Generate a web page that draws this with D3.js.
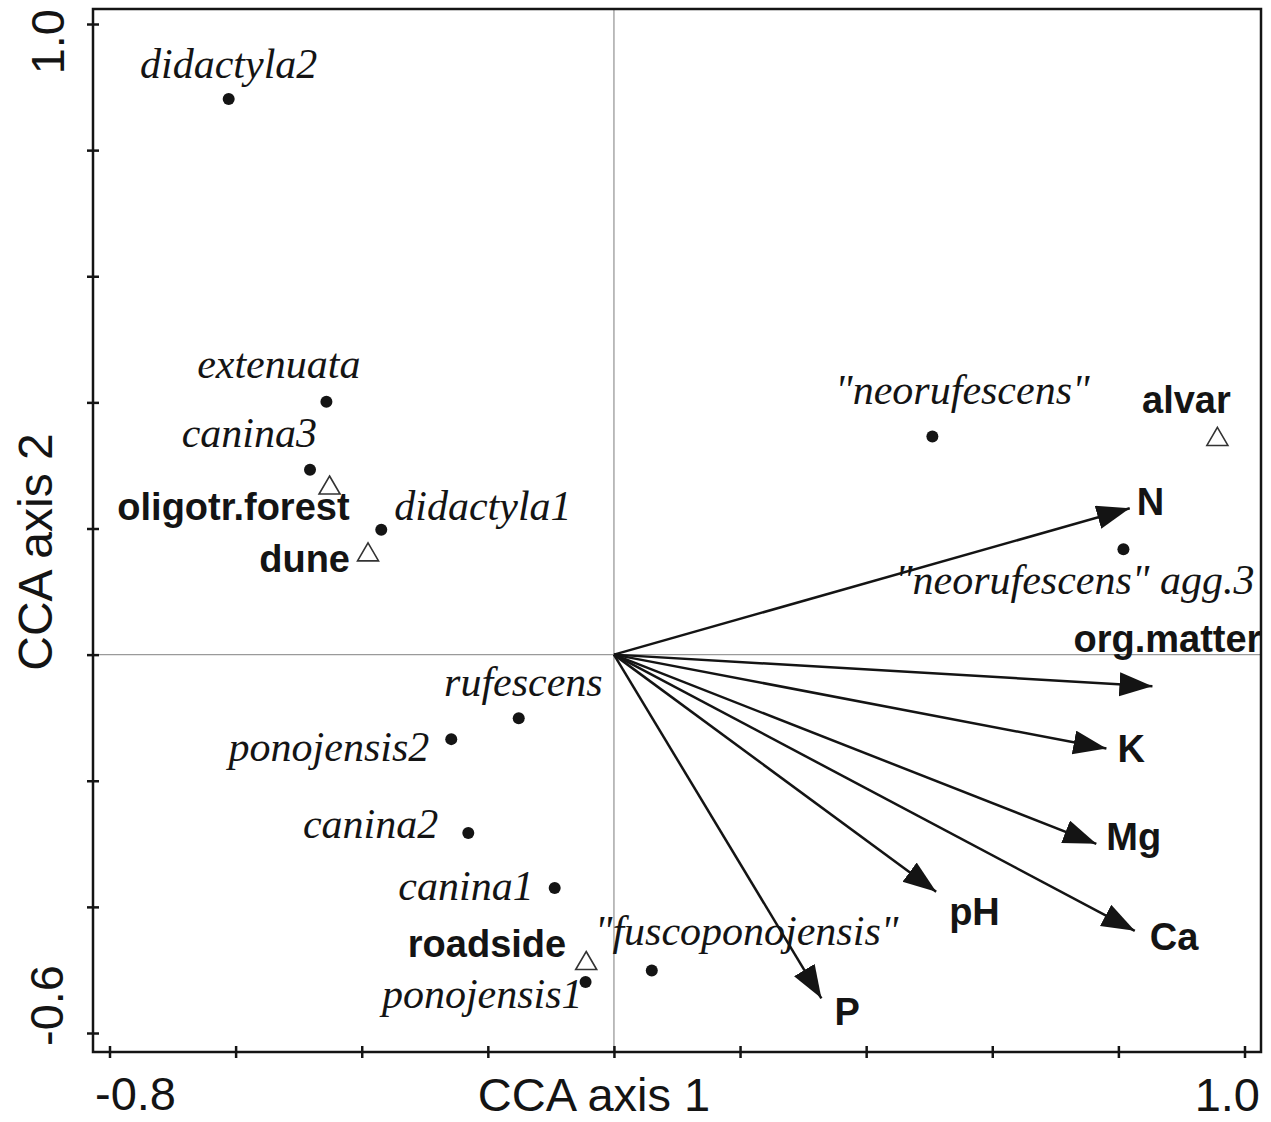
<!DOCTYPE html>
<html>
<head>
<meta charset="utf-8">
<script src="https://cdn.jsdelivr.net/npm/d3@7/dist/d3.min.js"></script>
<style>
  html, body { margin: 0; padding: 0; background: #fff; }
  svg { display: block; }
</style>
</head>
<body>
<svg id="chart" width="1271" height="1122"></svg>
<script>
// ---------------- data ----------------
const speciesNames = ["didactyla2", "extenuata", "canina3", "didactyla1", "\"neorufescens\"", "\"neorufescens\" agg.3",
  "rufescens", "ponojensis2", "canina2", "canina1", "\"fuscoponojensis\"", "ponojensis1"];
const speciesX = [-0.611, -0.456, -0.482, -0.369, 0.505, 0.808, -0.151, -0.258, -0.231, -0.094, 0.060, -0.045];
const speciesY = [0.881, 0.401, 0.293, 0.198, 0.346, 0.167, -0.101, -0.134, -0.283, -0.370, -0.501, -0.519];

const siteNames = ["oligotr.forest", "dune", "alvar", "roadside"];
const siteX = [-0.451, -0.390, 0.957, -0.044];
const siteY = [0.269, 0.163, 0.346, -0.485];

const envNames = ["N", "org.matter", "K", "Mg", "Ca", "pH", "P"];
const envX = [0.818, 0.854, 0.781, 0.765, 0.826, 0.511, 0.329];
const envY = [0.232, -0.050, -0.149, -0.300, -0.438, -0.376, -0.545];

const xTicks = [-0.8, -0.6, -0.4, -0.2, 0.0, 0.2, 0.4, 0.6, 0.8, 1.0];
const yTicks = [-0.6, -0.4, -0.2, 0.0, 0.2, 0.4, 0.6, 0.8, 1.0];
const xTickLabels = ["-0.8", "1.0"];
const yTickLabels = ["-0.6", "1.0"];
const xTitle = "CCA axis 1";
const yTitle = "CCA axis 2";

// ---------------- layout (label placement, px) ----------------
const speciesLabelPos = [
  [0, -21, "middle"], [34, -24, "end"], [7, -23, "end"], [13, -10, "start"],
  [30, -32, "middle"], [131, 45, "end"], [84, -22, "end"], [-22, 22, "end"],
  [-30, 5, "end"], [-21, 12, "end"], [-57, -26, "start"], [-3, 26, "end"]
];
const siteLabelPos = [[20, 35, "end"], [-18, 20, "end"], [-31, -23, "middle"], [-20, -3, "end"]];
const envLabelPos = [[7, 7, "start"], [-79, -34, "start"], [11, 13, "start"], [10, 6, "start"],
  [15, 19, "start"], [13, 33, "start"], [13, 27, "start"]];

const INK = "#141414";
const svg = d3.select("#chart");

const x = d3.scaleLinear().domain([-0.8, 1.0]).range([109.5, 1244.5]);
const y = d3.scaleLinear().domain([-0.6, 1.0]).range([1033, 24]);

const L = 93, R = 1261, T = 9, B = 1052;

// zero lines
svg.append("line").attr("x1", x(0)).attr("x2", x(0)).attr("y1", T).attr("y2", B)
  .attr("stroke", "#9a9a9a").attr("stroke-width", 1.3);
svg.append("line").attr("x1", L).attr("x2", R).attr("y1", y(0)).attr("y2", y(0))
  .attr("stroke", "#9a9a9a").attr("stroke-width", 1.3);

// frame
svg.append("rect").attr("x", L).attr("y", T).attr("width", R - L).attr("height", B - T)
  .attr("fill", "none").attr("stroke", INK).attr("stroke-width", 2.5);

// axes ticks (crossing the frame)
const xAxis = d3.axisBottom(x).tickValues(xTicks).tickSize(12).tickFormat("");
const gx = svg.append("g").attr("transform", `translate(0,${B - 6})`).call(xAxis);
gx.select(".domain").remove();
gx.selectAll(".tick line").attr("stroke", INK).attr("stroke-width", 2.5);

const yAxis = d3.axisLeft(y).tickValues(yTicks).tickSize(12).tickFormat("");
const gy = svg.append("g").attr("transform", `translate(${L + 6},0)`).call(yAxis);
gy.select(".domain").remove();
gy.selectAll(".tick line").attr("stroke", INK).attr("stroke-width", 2.5);

const sans = "'Liberation Sans', Arial, sans-serif";
const serif = "'Liberation Serif', 'Times New Roman', serif";

// tick labels
svg.append("text").attr("x", 95).attr("y", 1110).attr("text-anchor", "start")
  .attr("font-family", sans).attr("font-size", 47).attr("fill", INK).text(xTickLabels[0]);
svg.append("text").attr("x", 1260).attr("y", 1111).attr("text-anchor", "end")
  .attr("font-family", sans).attr("font-size", 47).attr("fill", INK).text(xTickLabels[1]);
svg.append("text").attr("transform", "translate(63,1046) rotate(-90)").attr("text-anchor", "start")
  .attr("font-family", sans).attr("font-size", 47).attr("fill", INK).text(yTickLabels[0]);
svg.append("text").attr("transform", "translate(64,9) rotate(-90)").attr("text-anchor", "end")
  .attr("font-family", sans).attr("font-size", 47).attr("fill", INK).text(yTickLabels[1]);

// axis titles
svg.append("text").attr("x", 594).attr("y", 1111).attr("text-anchor", "middle")
  .attr("font-family", sans).attr("font-size", 47).attr("fill", INK).text(xTitle);
svg.append("text").attr("transform", "translate(52,552) rotate(-90)").attr("text-anchor", "middle")
  .attr("font-family", sans).attr("font-size", 48).attr("fill", INK).text(yTitle);

// arrows
const defs = svg.append("defs");
defs.append("marker").attr("id", "ah").attr("markerUnits", "userSpaceOnUse")
  .attr("markerWidth", 36).attr("markerHeight", 26).attr("refX", 33).attr("refY", 12)
  .attr("orient", "auto")
  .append("path").attr("d", "M0,0 L33,12 L0,24 Z").attr("fill", INK);

const env = envNames.map((n, i) => ({ name: n, x: envX[i], y: envY[i], lp: envLabelPos[i] }));
svg.append("g").selectAll("line").data(env).join("line")
  .attr("x1", x(0)).attr("y1", y(0))
  .attr("x2", d => x(d.x)).attr("y2", d => y(d.y))
  .attr("stroke", INK).attr("stroke-width", 2.5).attr("marker-end", "url(#ah)");
svg.append("g").selectAll("text").data(env).join("text")
  .attr("x", d => x(d.x) + d.lp[0]).attr("y", d => y(d.y) + d.lp[1])
  .attr("text-anchor", d => d.lp[2])
  .attr("font-family", sans).attr("font-weight", "bold").attr("font-size", 38).attr("fill", INK)
  .text(d => d.name);

// species points
const sp = speciesNames.map((n, i) => ({ name: n, x: speciesX[i], y: speciesY[i], lp: speciesLabelPos[i] }));
svg.append("g").selectAll("circle").data(sp).join("circle")
  .attr("cx", d => x(d.x)).attr("cy", d => y(d.y)).attr("r", 6).attr("fill", INK);
svg.append("g").selectAll("text").data(sp).join("text")
  .attr("x", d => x(d.x) + d.lp[0]).attr("y", d => y(d.y) + d.lp[1])
  .attr("text-anchor", d => d.lp[2])
  .attr("font-family", serif).attr("font-style", "italic").attr("font-size", 42).attr("fill", INK)
  .text(d => d.name);

// sites
const st = siteNames.map((n, i) => ({ name: n, x: siteX[i], y: siteY[i], lp: siteLabelPos[i] }));
svg.append("g").selectAll("path").data(st).join("path")
  .attr("d", d => {
    const cx = x(d.x), cy = y(d.y), h = 18, hw = 10.5;
    return `M${cx},${cy - h / 2} L${cx + hw},${cy + h / 2} L${cx - hw},${cy + h / 2} Z`;
  })
  .attr("fill", "#fff").attr("stroke", "#333").attr("stroke-width", 1.6);
svg.append("g").selectAll("text").data(st).join("text")
  .attr("x", d => x(d.x) + d.lp[0]).attr("y", d => y(d.y) + d.lp[1])
  .attr("text-anchor", d => d.lp[2])
  .attr("font-family", sans).attr("font-weight", "bold").attr("font-size", 38).attr("fill", INK)
  .text(d => d.name);
</script>
</body>
</html>
